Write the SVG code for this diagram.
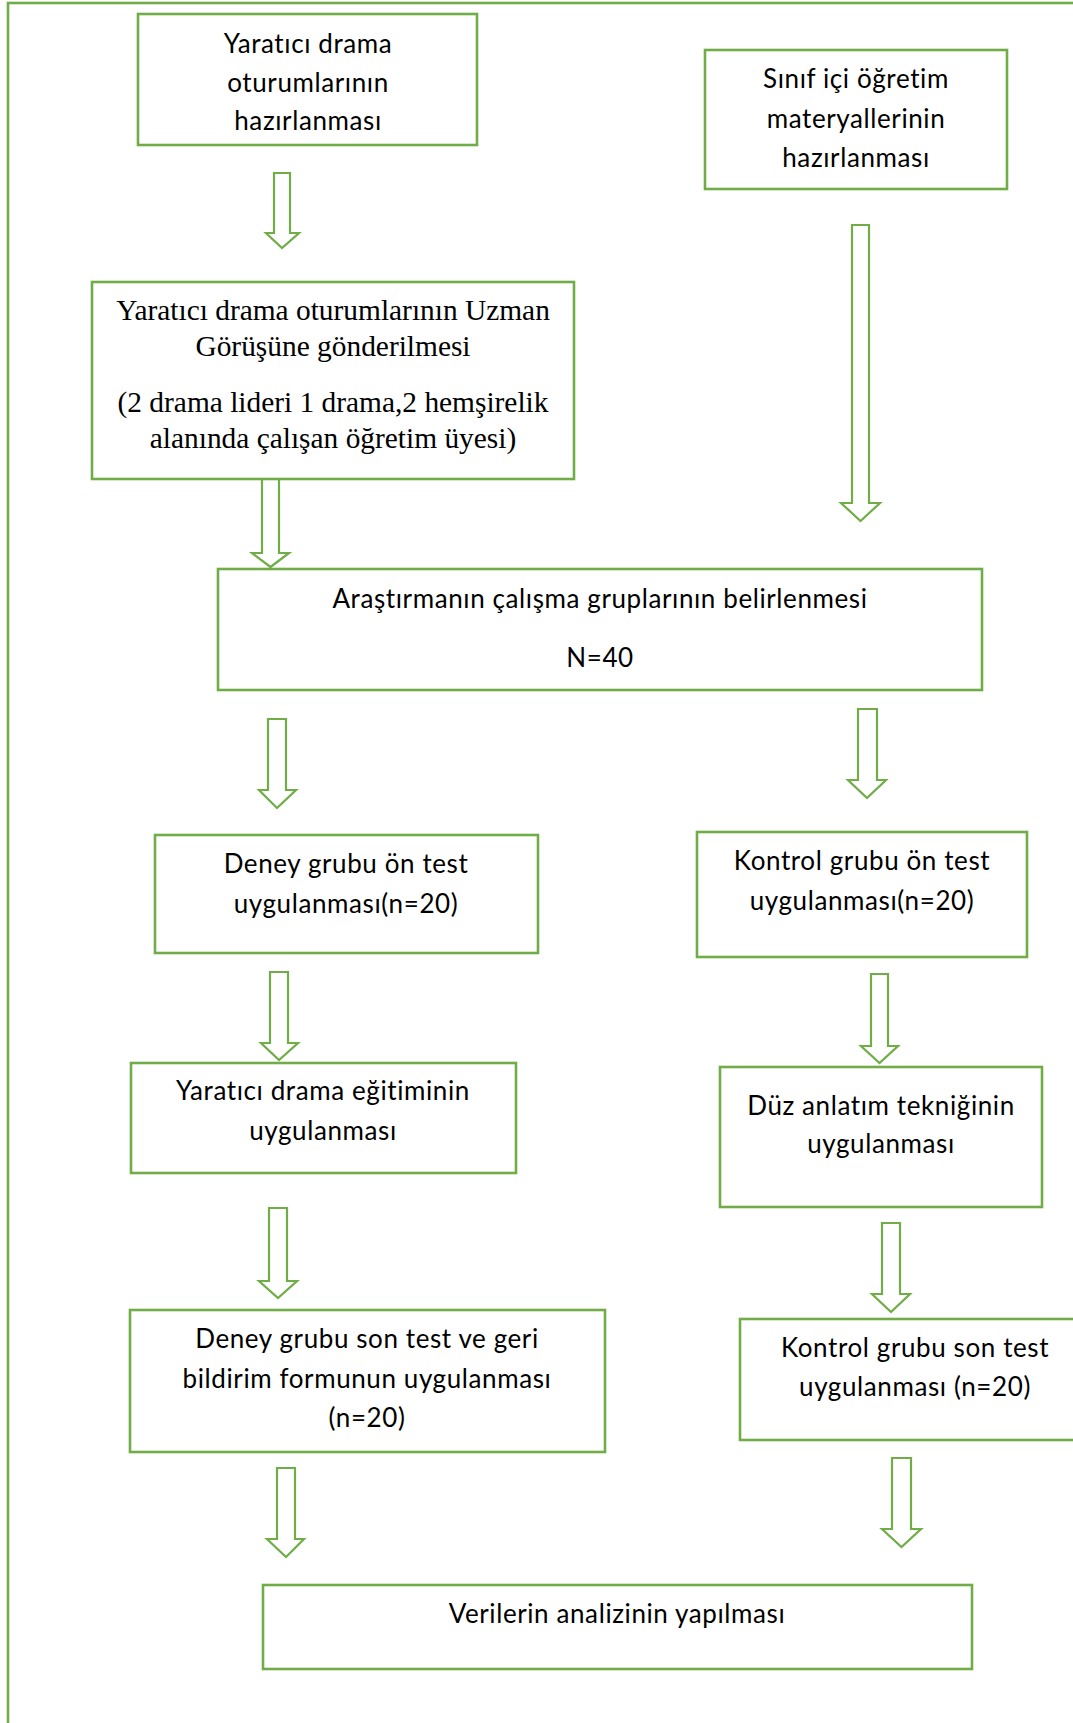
<svg xmlns="http://www.w3.org/2000/svg" width="1073" height="1723" viewBox="0 0 1073 1723">
<style>
.box{fill:#ffffff;stroke:#70AD47;stroke-width:2.6}
.arr{fill:#ffffff;stroke:#70AD47;stroke-width:2.2;stroke-linejoin:miter}
.t{font-family:Lato,"Open Sans",sans-serif;font-size:26px;letter-spacing:0.6px;fill:#000;text-anchor:middle}
.s{font-family:"Liberation Serif","Times New Roman",serif;font-size:29.4px;fill:#000;text-anchor:middle}
</style>
<rect x="0" y="0" width="1073" height="1723" fill="#ffffff"/>
<rect x="8" y="3" width="1200" height="1900" fill="none" stroke="#70AD47" stroke-width="2.6"/>
<g id="connectors">
<polygon class="arr" points="274,173 290,173 290,233 299,233 282,248 266,233 274,233"/>
<polygon class="arr" points="852,225 869,225 869,503 880,503 860.5,521 841,503 852,503"/>
<polygon class="arr" points="262,479 279,479 279,553 289,553 270.5,567 252,553 262,553"/>
<polygon class="arr" points="268,719 286,719 286,790 296,790 277,808 259,790 268,790"/>
<polygon class="arr" points="858,709 877,709 877,780 886,780 867,798 848,780 858,780"/>
<polygon class="arr" points="270,972 288,972 288,1043 298,1043 279,1060 261,1043 270,1043"/>
<polygon class="arr" points="871,974 888,974 888,1046 898,1046 879.5,1063 861,1046 871,1046"/>
<polygon class="arr" points="269,1208 287,1208 287,1281 297,1281 278,1298 259,1281 269,1281"/>
<polygon class="arr" points="882,1223 900,1223 900,1294 910,1294 891,1312 872,1294 882,1294"/>
<polygon class="arr" points="277,1468 295,1468 295,1539 304,1539 286,1557 267,1539 277,1539"/>
<polygon class="arr" points="892,1458 911,1458 911,1529 921,1529 901.5,1547 882,1529 892,1529"/>
</g>
<g id="n1"><rect class="box" x="138" y="14" width="339" height="131"/>
<text class="t" x="308" y="53">Yaratıcı drama</text>
<text class="t" x="308" y="92">oturumlarının</text>
<text class="t" x="308" y="130">hazırlanması</text></g>
<g id="n2"><rect class="box" x="705" y="50" width="302" height="139"/>
<text class="t" x="856" y="88">Sınıf içi öğretim</text>
<text class="t" x="856" y="128">materyallerinin</text>
<text class="t" x="856" y="167">hazırlanması</text></g>
<g id="n3"><rect class="box" x="92" y="282" width="482" height="197"/>
<text class="s" x="333" y="320">Yaratıcı drama oturumlarının Uzman</text>
<text class="s" x="333" y="356">Görüşüne gönderilmesi</text>
<text class="s" x="333" y="412">(2 drama lideri 1 drama,2 hemşirelik</text>
<text class="s" x="333" y="448">alanında çalışan öğretim üyesi)</text></g>
<g id="n4"><rect class="box" x="218" y="569" width="764" height="121"/>
<text class="t" x="600" y="608">Araştırmanın çalışma gruplarının belirlenmesi</text>
<text class="t" x="600" y="667">N=40</text></g>
<g id="n5"><rect class="box" x="155" y="835" width="383" height="118"/>
<text class="t" x="346" y="873">Deney grubu ön test</text>
<text class="t" x="346" y="913">uygulanması(n=20)</text></g>
<g id="n6"><rect class="box" x="697" y="832" width="330" height="125"/>
<text class="t" x="862" y="870">Kontrol grubu ön test</text>
<text class="t" x="862" y="910">uygulanması(n=20)</text></g>
<g id="n7"><rect class="box" x="131" y="1063" width="385" height="110"/>
<text class="t" x="323" y="1100">Yaratıcı drama eğitiminin</text>
<text class="t" x="323" y="1140">uygulanması</text></g>
<g id="n8"><rect class="box" x="720" y="1067" width="322" height="140"/>
<text class="t" x="881" y="1115">Düz anlatım tekniğinin</text>
<text class="t" x="881" y="1153">uygulanması</text></g>
<g id="n9"><rect class="box" x="130" y="1310" width="475" height="142"/>
<text class="t" x="367" y="1348">Deney grubu son test ve geri</text>
<text class="t" x="367" y="1388">bildirim formunun uygulanması</text>
<text class="t" x="367" y="1427">(n=20)</text></g>
<g id="n10"><rect class="box" x="740" y="1319" width="350" height="121"/>
<text class="t" x="915" y="1357">Kontrol grubu son test</text>
<text class="t" x="915" y="1396">uygulanması (n=20)</text></g>
<g id="n11"><rect class="box" x="263" y="1585" width="709" height="84"/>
<text class="t" x="617" y="1623">Verilerin analizinin yapılması</text></g>
</svg>
